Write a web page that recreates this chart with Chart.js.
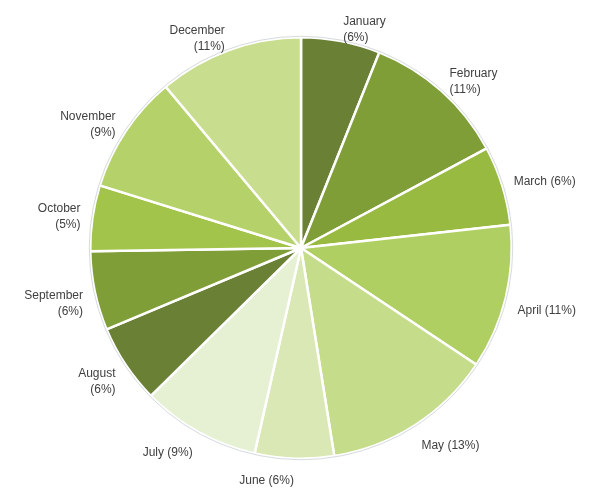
<!DOCTYPE html>
<html>
<head>
<meta charset="utf-8">
<script src="https://cdn.jsdelivr.net/npm/chart.js"></script>
<style>
  html, body { margin: 0; padding: 0; background: #fff; }
</style>
</head>
<body>
<canvas id="pie" width="597" height="488"></canvas>
<script>
const months = ['January', 'February', 'March', 'April', 'May', 'June',
  'July', 'August', 'September', 'October', 'November', 'December'];
const shares = [6, 11, 6, 11, 13, 6, 9, 6, 6, 5, 9, 11];
const colours = ['#6a8034', '#809e37', '#98ba40', '#afcf63', '#c5dc8a', '#d9e8b4',
  '#e6f0d2', '#6a8034', '#809e37', '#a3c44b', '#b5d16a', '#c9dd8f'];
// labels written on two lines
const twoLine = [true, true, false, false, false, false, false, true, true, true, true, true];

// outside labels, left side right-aligned, right side left-aligned
const sliceLabels = {
  id: 'sliceLabels',
  afterDatasetsDraw(chart) {
    const ctx = chart.ctx;
    const arcs = chart.getDatasetMeta(0).data;
    const first = arcs[0];
    // faint rim around the pie
    ctx.save();
    ctx.beginPath();
    ctx.arc(first.x, first.y, first.outerRadius + 1, 0, Math.PI * 2);
    ctx.strokeStyle = '#d5dade';
    ctx.lineWidth = 1;
    ctx.stroke();

    ctx.font = '12px "Liberation Sans", Arial, sans-serif';
    ctx.fillStyle = '#404040';
    ctx.textBaseline = 'middle';
    arcs.forEach((arc, i) => {
      const mid = (arc.startAngle + arc.endAngle) / 2;
      const r = arc.outerRadius + 12;
      const x = arc.x + Math.cos(mid) * r;
      let y = arc.y + Math.sin(mid) * r;
      if (Math.sin(mid) > 0.1) y += 10;
      ctx.textAlign = Math.cos(mid) >= 0 ? 'left' : 'right';
      const pct = '(' + shares[i] + '%)';
      if (twoLine[i]) {
        ctx.fillText(months[i], x, y - 8);
        ctx.fillText(pct, x, y + 8);
      } else {
        ctx.fillText(months[i] + ' ' + pct, x, y);
      }
    });
    ctx.restore();
  }
};

new Chart(document.getElementById('pie'), {
  type: 'pie',
  data: {
    labels: months,
    datasets: [{
      data: shares,
      backgroundColor: colours,
      borderColor: '#ffffff',
      borderWidth: 2.5
    }]
  },
  options: {
    responsive: false,
    animation: false,
    layout: { padding: { left: 89, right: 84, top: 36, bottom: 28 } },
    plugins: {
      legend: { display: false },
      tooltip: { enabled: false }
    }
  },
  plugins: [sliceLabels]
});
</script>
</body>
</html>
